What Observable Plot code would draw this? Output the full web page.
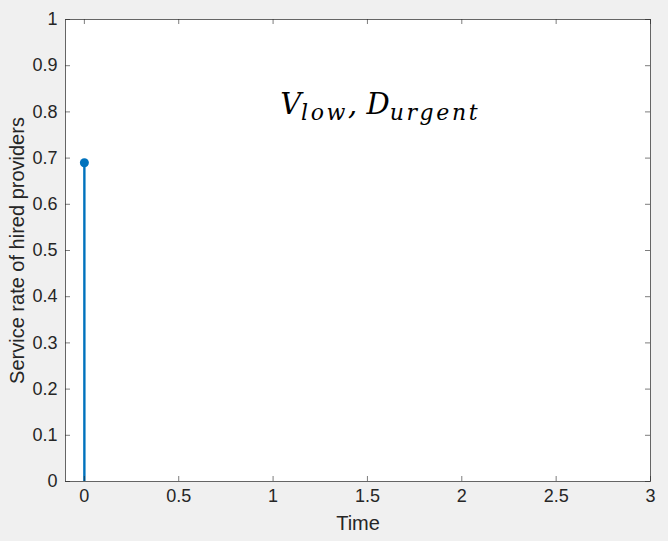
<!DOCTYPE html>
<html><head><meta charset="utf-8">
<script src="https://cdn.jsdelivr.net/npm/d3@7"></script>
<script src="https://cdn.jsdelivr.net/npm/@observablehq/plot@0.6"></script>
<style>
html,body{margin:0;padding:0;background:#f0f0f0;}
svg{display:block;}
</style>
</head><body><div id="chart"></div>
<script>
const times = [0];
const rates = [0.69];
const xTicks = [0, 0.5, 1, 1.5, 2, 2.5, 3];
const yTicks = [0, 0.1, 0.2, 0.3, 0.4, 0.5, 0.6, 0.7, 0.8, 0.9, 1];
const xLabel = "Time";
const yLabel = "Service rate of hired providers";
const annotationParts = [
  {text: "V", sub: false}, {text: "low", sub: true},
  {text: ", ", sub: false}, {text: "D", sub: false}, {text: "urgent", sub: true}
];
const annotationPos = {x: 1.04, y: 0.795};

const data = times.map((t, i) => ({t, r: rates[i]}));
const font = "Helvetica, Arial, 'Liberation Sans', sans-serif";
const ink = "#262626";

const plot = Plot.plot({
  width: 668, height: 541,
  marginLeft: 65, marginRight: 18, marginTop: 19, marginBottom: 60,
  style: {background: "transparent", fontFamily: font, fontSize: "18px", color: ink},
  x: {domain: [-0.1, 3]},
  y: {domain: [0, 1]},
  marks: [
    Plot.frame({fill: "white", stroke: null}),
    Plot.ruleX(data, {x: "t", y1: 0, y2: "r", stroke: "#0072BD", strokeWidth: 2.4}),
    Plot.dot(data, {x: "t", y: "r", r: 4.5, fill: "#0072BD", stroke: null}),
    Plot.tickX(xTicks, {x: d => d, insetTop: 457, stroke: ink, strokeOpacity: 0.6}),
    Plot.tickX(xTicks, {x: d => d, insetBottom: 457, stroke: ink, strokeOpacity: 0.6}),
    Plot.tickY(yTicks, {y: d => d, insetRight: 580, stroke: ink, strokeOpacity: 0.6}),
    Plot.tickY(yTicks, {y: d => d, insetLeft: 580, stroke: ink, strokeOpacity: 0.6}),
    Plot.frame({stroke: ink, strokeOpacity: 0.7}),
    Plot.axisX({ticks: xTicks, tickSize: 0, tickPadding: 8, tickFormat: d => String(d), label: null, fontSize: 18, fill: ink}),
    Plot.axisY({ticks: yTicks, tickSize: 0, tickPadding: 8, tickFormat: d => String(d), label: null, fontSize: 18, fill: ink}),
    Plot.text([xLabel], {text: d => d, frameAnchor: "bottom", dy: 42, textAnchor: "middle", lineAnchor: "middle", fontSize: 20, fill: ink}),
    Plot.text([yLabel], {text: d => d, frameAnchor: "left", dx: -48, rotate: -90, textAnchor: "middle", lineAnchor: "middle", fontSize: 20, fill: ink})
  ]
});
document.getElementById("chart").appendChild(plot);

const svg = d3.select(plot);
const sx = plot.scale("x"), sy = plot.scale("y");
const t = svg.append("text")
  .attr("x", sx.apply(annotationPos.x))
  .attr("y", sy.apply(annotationPos.y))
  .attr("text-anchor", "start")
  .attr("font-family", "'DejaVu Serif', 'Liberation Serif', serif")
  .attr("font-style", "italic")
  .attr("font-size", 29)
  .attr("fill", "#000");
let shifted = false;
annotationParts.forEach(p => {
  const ts = t.append("tspan").text(p.text);
  if (p.sub) {
    ts.attr("font-size", 22).attr("letter-spacing", 2.6);
    if (!shifted) { ts.attr("dy", 6); shifted = true; }
  } else if (shifted) { ts.attr("dy", -6); shifted = false; }
});
</script>
</body></html>
